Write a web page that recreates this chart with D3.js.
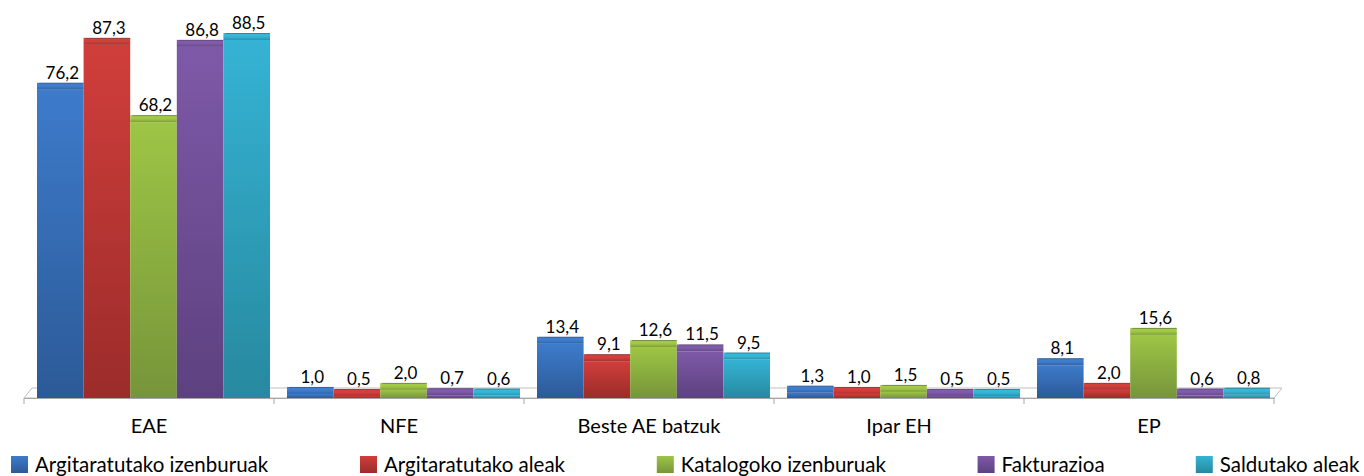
<!DOCTYPE html>
<html>
<head>
<meta charset="utf-8">
<script src="https://cdn.jsdelivr.net/npm/d3@7"></script>
<style>
  body { margin: 0; background: #fff; }
  text { font-family: Lato, "Open Sans", sans-serif; fill: #000; }
</style>
</head>
<body>
<div id="chart"></div>
<script>
// data
const categories = ["EAE", "NFE", "Beste AE batzuk", "Ipar EH", "EP"];
const series = ["Argitaratutako izenburuak", "Argitaratutako aleak", "Katalogoko izenburuak", "Fakturazioa", "Saldutako aleak"];
const izenburuak = [76.2, 1.0, 13.4, 1.3, 8.1];
const aleak = [87.3, 0.5, 9.1, 1.0, 2.0];
const katalogoa = [68.2, 2.0, 12.6, 1.5, 15.6];
const fakturazioa = [86.8, 0.7, 11.5, 0.5, 0.6];
const saldutakoak = [88.5, 0.6, 9.5, 0.5, 0.8];
const values = [izenburuak, aleak, katalogoa, fakturazioa, saldutakoak];

// colors (top, bottom)
const topColors = ["#3d7bcb", "#d03e3b", "#9ec545", "#7e59a8", "#35b3d4"];
const bottomColors = ["#2c5a97", "#9b2c2a", "#76953a", "#5d417f", "#27899f"];

// constants
const w = 1364;
const h = 476;
const floorFront = 398;
const floorBack = 388;
const depth = 7;     // cap thickness
const skew = 8;      // floor perspective offset

const svg = d3.select("#chart")
    .append("svg")
    .attr("width", w)
    .attr("height", h);

const defs = svg.append("defs");
series.forEach(function(s, i){
    let g = defs.append("linearGradient")
        .attr("id", "front" + i)
        .attr("x1", 0).attr("y1", 0).attr("x2", 0).attr("y2", 1);
    g.append("stop").attr("offset", "0%").attr("stop-color", topColors[i]);
    g.append("stop").attr("offset", "100%").attr("stop-color", bottomColors[i]);

    let c = defs.append("linearGradient")
        .attr("id", "cap" + i)
        .attr("x1", 0).attr("y1", 0).attr("x2", 0).attr("y2", 1);
    c.append("stop").attr("offset", "0%").attr("stop-color", d3.color(topColors[i]).brighter(0.15));
    c.append("stop").attr("offset", "55%").attr("stop-color", topColors[i]);
    c.append("stop").attr("offset", "100%").attr("stop-color", d3.color(topColors[i]).darker(0.6));
});

// scales
const x0 = d3.scaleBand()
    .domain(categories)
    .range([24, 1274]);

const x1 = d3.scaleBand()
    .domain(series)
    .range([13, x0.bandwidth() - 4]);

const hScale = d3.scaleLinear()
    .domain([0, 100])
    .range([0, 404.5]);

// floor
svg.append("path")
    .attr("d", "M" + x0.range()[0] + "," + floorFront +
        "L" + (x0.range()[0] + skew) + "," + floorBack +
        "L" + (x0.range()[1] + skew) + "," + floorBack +
        "L" + x0.range()[1] + "," + floorFront + "Z")
    .attr("fill", "none")
    .attr("stroke", "#bfbfbf")
    .attr("stroke-width", 1);

// category axis
const axeX = d3.axisBottom(x0)
    .tickSize(0)
    .tickPadding(0);

const gx = svg.append("g")
    .attr("transform", "translate(0," + floorFront + ")")
    .call(axeX);
gx.select(".domain").attr("stroke", "#a6a6a6");
gx.selectAll(".tick text")
    .attr("y", 35)
    .attr("dy", 0)
    .attr("font-size", "20px")
    .attr("font-family", "Lato, sans-serif")
    .attr("fill", "#000");

// boundary ticks
gx.selectAll(".sep")
    .data(d3.range(categories.length + 1))
    .enter()
    .append("line")
    .attr("class", "sep")
    .attr("x1", function(d){ return x0.range()[0] + d * x0.bandwidth(); })
    .attr("x2", function(d){ return x0.range()[0] + d * x0.bandwidth(); })
    .attr("y1", 0)
    .attr("y2", 6)
    .attr("stroke", "#a6a6a6");

// bars
const rows = [];
categories.forEach(function(c, ci){
    series.forEach(function(s, si){
        rows.push({cat: c, serie: s, si: si, v: values[si][ci]});
    });
});

const bars = svg.selectAll(".bar")
    .data(rows)
    .enter()
    .append("g")
    .attr("class", "bar")
    .attr("transform", function(d){ return "translate(" + (x0(d.cat) + x1(d.serie)) + ",0)"; });

// front face
bars.append("rect")
    .attr("x", 0)
    .attr("width", x1.bandwidth())
    .attr("y", function(d){ return floorFront - hScale(d.v); })
    .attr("height", function(d){ return hScale(d.v); })
    .attr("fill", function(d){ return "url(#front" + d.si + ")"; });

// top cap
bars.append("rect")
    .attr("x", 0)
    .attr("width", x1.bandwidth())
    .attr("y", function(d){ return floorFront - depth - hScale(d.v); })
    .attr("height", depth)
    .attr("fill", function(d){ return "url(#cap" + d.si + ")"; });

// back edge of the cap
bars.append("line")
    .attr("x1", 2)
    .attr("x2", x1.bandwidth())
    .attr("y1", function(d){ return floorFront - depth - hScale(d.v) + 0.5; })
    .attr("y2", function(d){ return floorFront - depth - hScale(d.v) + 0.5; })
    .attr("stroke", "#404040")
    .attr("stroke-opacity", 0.45);

// value labels
bars.append("text")
    .attr("x", x1.bandwidth() / 2 + 2)
    .attr("y", function(d){ return floorFront - depth - hScale(d.v) - 4; })
    .attr("text-anchor", "middle")
    .attr("font-size", "17px")
    .attr("fill", "#1a1a1a")
    .text(function(d){ return d3.format(".1f")(d.v).replace(".", ","); });

// legend
const legend = svg.append("g");
const items = legend.selectAll(".item")
    .data(series)
    .enter()
    .append("g")
    .attr("class", "item");

items.append("rect")
    .attr("x", 0)
    .attr("y", 456)
    .attr("width", 17)
    .attr("height", 17)
    .attr("fill", function(d, i){ return "url(#front" + i + ")"; });

items.append("text")
    .attr("x", 24)
    .attr("y", 472)
    .attr("font-size", "20.5px")
    .text(function(d){ return d; });

// even spacing between items
let widths = [];
items.each(function(){ widths.push(this.getBBox().width); });
let gap = (1360 - 11 - d3.sum(widths)) / (series.length - 1);
let pos = 11;
items.attr("transform", function(d, i){
    let t = "translate(" + pos + ",0)";
    pos += widths[i] + gap;
    return t;
});
</script>
</body>
</html>
